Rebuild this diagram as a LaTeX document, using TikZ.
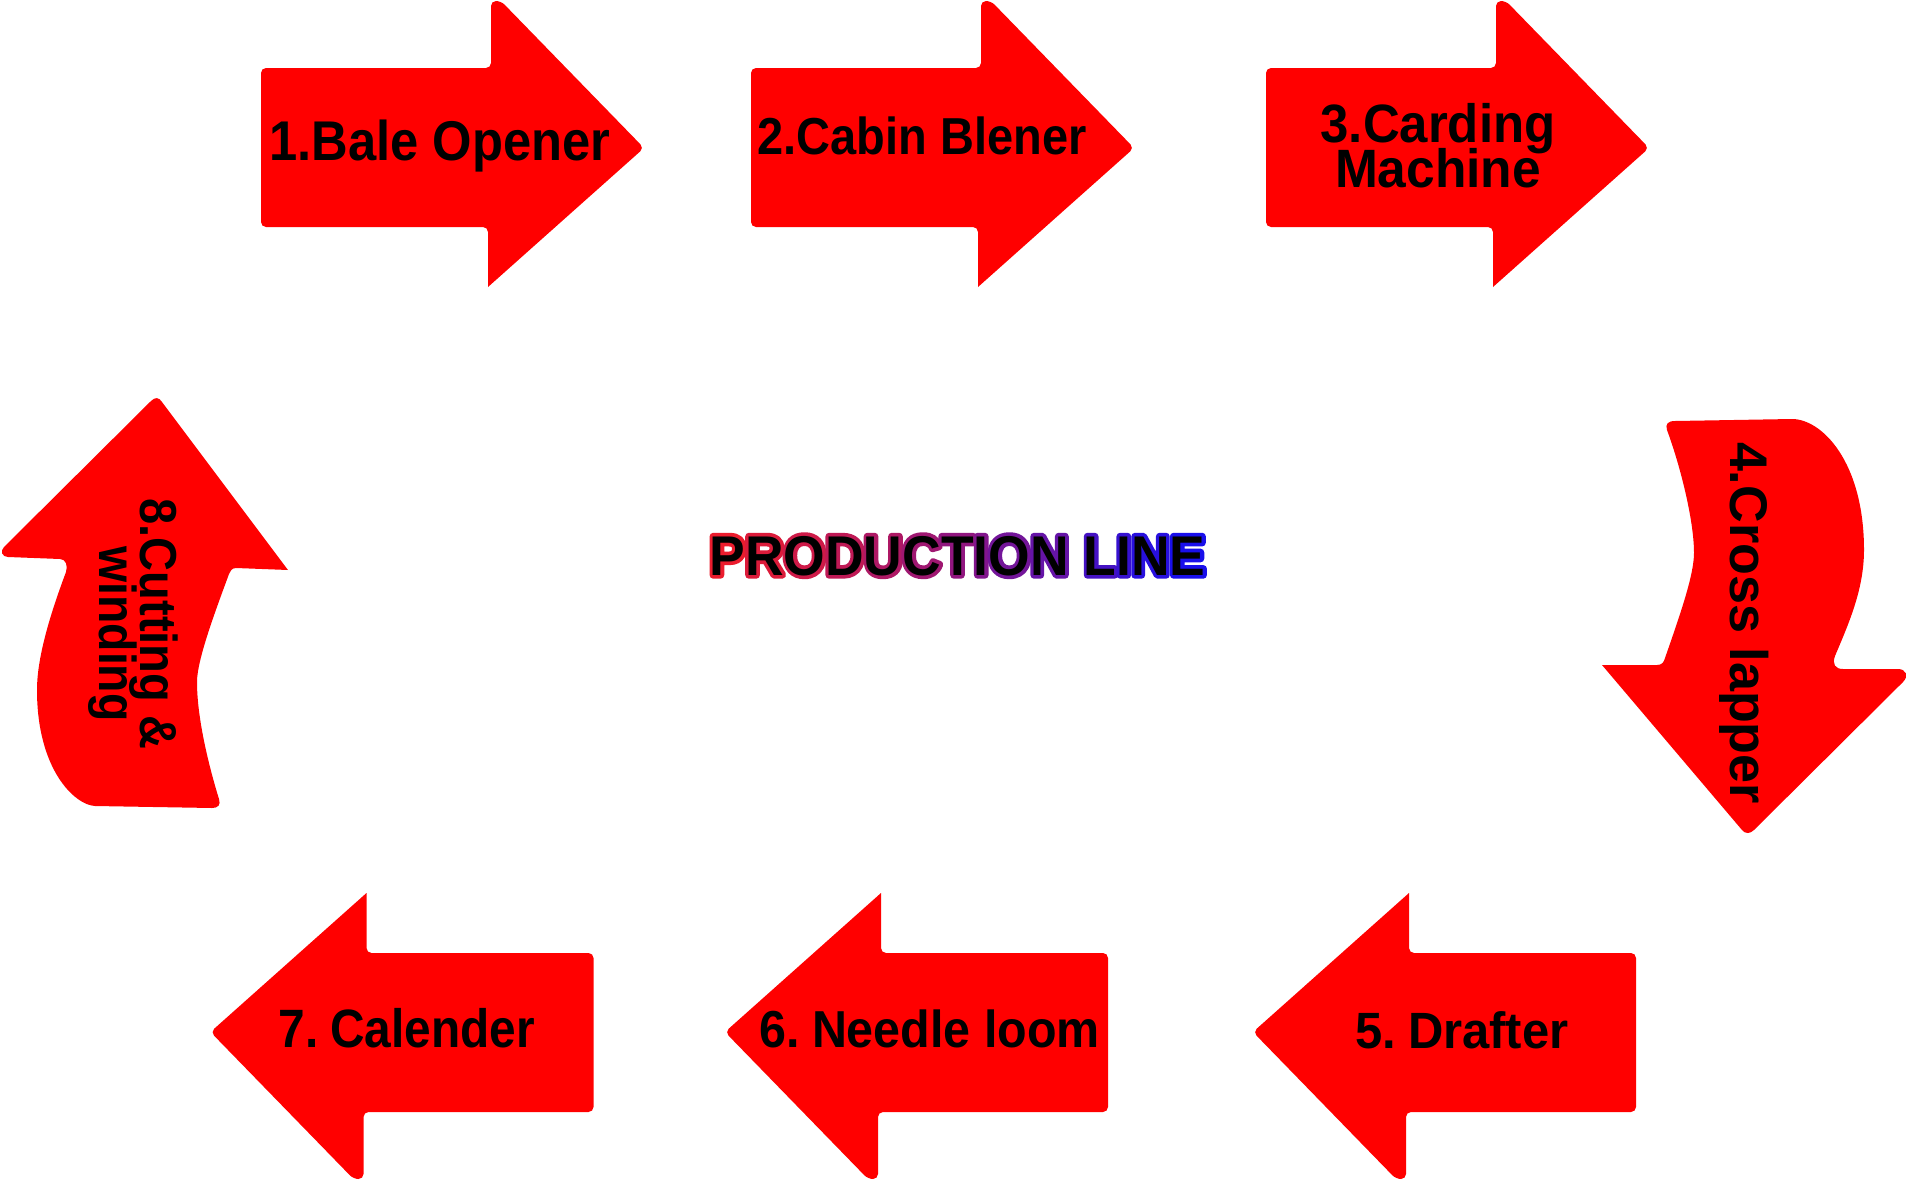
\documentclass[tikz,border=0pt]{standalone}
\usepackage{fontspec}
\setmainfont{Liberation Sans}
\newfontfamily\outlinefont{Liberation Sans Bold}[FakeBold=13]
\usepackage{graphicx}
\definecolor{arrowred}{RGB}{255,0,0}
\definecolor{tta}{RGB}{235,28,45}
\definecolor{ttb}{RGB}{25,15,235}
\tikzset{
  arrowfill/.style={fill=arrowred, rounded corners=5pt},
  lab/.style={inner sep=0pt, anchor=base, text=black},
}
\newcommand\lbl[3]{\fontsize{#1}{#1}\selectfont\bfseries\resizebox{#2pt}{\height}{#3}}
\newcommand\twolbl[7]{\fontsize{#1}{#2}\selectfont\bfseries
  \vtop{\lineskiplimit=-1000pt\lineskip=0pt\baselineskip=#2pt\halign{\hfil##\hfil\cr
  \resizebox{#3pt}{\height}{#4}\cr
  \hspace*{#5pt}\resizebox{#6pt}{\height}{#7}\cr}}}
\newif\ifttblack
\newcommand\pc[2]{\ifttblack\textcolor{black}{#2}\else\textcolor{ttb!#1!tta}{#2}\fi}
\newcommand\prodtitle{\pc{0}{P}\pc{7}{R}\pc{14}{O}\pc{21}{D}\pc{29}{U}\pc{36}{C}\pc{43}{T}\pc{50}{I}\pc{57}{O}\pc{64}{N}\ \pc{79}{L}\pc{86}{I}\pc{93}{N}\pc{100}{E}}
\newcommand\prodbox{\fontsize{56}{56}\selectfont\resizebox{496pt}{\height}{\prodtitle}}
\newcommand\nsp{\hspace{0.24em}}
\newcommand\rarrow{\fill[arrowfill] (488,287) -- (488,227) -- (261,227) -- (261,68) -- (491,68) -- (491,1) -- (501,1) -- (644,148) -- (488,287);}
\begin{document}
\begin{tikzpicture}[x=1pt,y=-1pt]
\fill[white] (0,0) rectangle (1907,1181);
\useasboundingbox (0,0) rectangle (1907,1181);
% top row
\begin{scope}\rarrow\end{scope}
\begin{scope}[shift={(490,0)}]\rarrow\end{scope}
\begin{scope}[shift={(1005,0)}]\rarrow\end{scope}
% bottom row
\begin{scope}[shift={(854.5,1180)},scale=-1]\rarrow\end{scope}
\begin{scope}[shift={(1369,1180)},scale=-1]\rarrow\end{scope}
\begin{scope}[shift={(1897,1180)},scale=-1]\rarrow\end{scope}
% arrow 4 (curved, down)
\fill[fill=arrowred] (1675,421) -- (1792,419) .. controls (1822,419) and (1864,462) .. (1864,550) .. controls (1864,590) and (1848,625) .. (1835,656) .. controls (1832,664) and (1835,669) .. (1843,669) -- (1898,669) .. controls (1906,669) and (1909,676) .. (1903,682) -- (1754,830) .. controls (1750,834) and (1745,834) .. (1742,830) -- (1602,665) -- (1657,665) .. controls (1662,665) and (1664,662) .. (1665,658) .. controls (1680,615) and (1694,575) .. (1694,553) .. controls (1694,520) and (1680,465) .. (1667,430) .. controls (1665,424) and (1668,421) .. (1675,421) -- cycle;
% arrow 8 (curved, up)
\fill[fill=arrowred] (151,401) .. controls (155,397) and (159,397) .. (162,402) -- (288,570) -- (236,568) .. controls (232,568) and (230,571) .. (229,574) .. controls (215,612) and (197,660) .. (197,682) .. controls (197,720) and (210,770) .. (219,799) .. controls (221,805) and (218,808) .. (212,808) -- (95,806) .. controls (75,805) and (37,770) .. (37,690) .. controls (37,660) and (48,620) .. (66,572) .. controls (68,566) and (66,559) .. (60,559) -- (8,557) .. controls (2,557) and (0,551) .. (4,547) -- cycle;
% labels
\node[lab] (t1) at (440,160) {\lbl{56}{341}{1.Bale Opener}};
\node[lab] (t2) at (922,154) {\lbl{52}{329}{2.Cabin Blener}};
\node[lab] (t3) at (1438,142) {\twolbl{54}{45}{235}{3.Carding}{0}{206}{Machine}};
\node[lab,rotate=-90] (t4) at (1730,623) {\lbl{53}{362}{4.Cross lapper}};
\node[lab] (t5) at (1462,1048) {\lbl{51}{213}{5.\nsp Drafter}};
\node[lab] (t6) at (930,1047) {\lbl{52}{340}{6.\nsp Needle loom}};
\node[lab] (t7) at (407,1047) {\lbl{54}{256}{7.\nsp Calender}};
\node[lab,rotate=-90] (t8) at (140,624) {\twolbl{52}{41}{251}{8.Cutting \&}{20}{175}{winding}};
% title with gradient outline
\node[lab, line join=round, miter limit=1] (titleoutline) at (957.5,575) {\outlinefont\prodbox};
\node[lab] (title) at (957.5,575) {\bfseries\ttblacktrue\prodbox};
\end{tikzpicture}
\end{document}
